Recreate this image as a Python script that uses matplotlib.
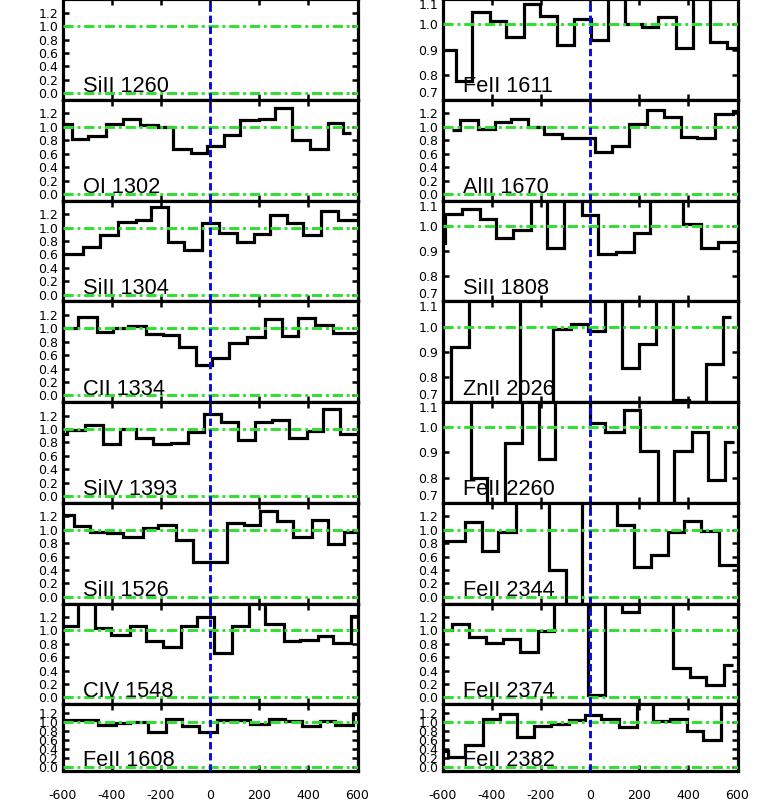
import numpy as np
import matplotlib.pyplot as plt
from matplotlib.ticker import FixedLocator, FormatStrFormatter

plt.rcParams['axes.unicode_minus'] = False

# ---- data: velocity bin edges (km/s) and normalised flux per transition ----
sii1260_edges = []
sii1260_flux = []

oi1302_edges = [-630, -562, -495, -424, -354, -286, -212, -152, -78, -11, 56, 124, 198, 265, 332, 406, 480, 541, 574]
oi1302_flux = [1.045, 0.82, 0.86, 1.045, 1.12, 1.03, 0.995, 0.67, 0.61, 0.72, 0.885, 1.095, 1.12, 1.28, 0.80, 0.67, 1.06, 0.905]

sii1304_edges = [-640, -515, -448, -374, -300, -239, -172, -105, -31, 36, 110, 178, 245, 312, 379, 453, 521, 610]
sii1304_flux = [0.61, 0.71, 0.895, 1.085, 1.11, 1.30, 0.79, 0.66, 1.07, 0.92, 0.78, 0.91, 1.18, 1.075, 0.885, 1.245, 1.11]

cii1334_edges = [-640, -535, -461, -394, -334, -260, -192, -125, -58, 9, 77, 151, 225, 292, 359, 426, 500, 610]
cii1334_flux = [1.01, 1.17, 0.94, 1.0, 1.035, 0.92, 0.895, 0.72, 0.45, 0.56, 0.78, 0.87, 1.135, 0.885, 1.16, 1.055, 0.93]

siiv1393_edges = [-650, -582, -508, -437, -367, -300, -233, -159, -91, -24, 43, 114, 182, 252, 323, 393, 460, 527, 610]
siiv1393_flux = [0.92, 0.99, 1.06, 0.78, 1.0, 0.87, 0.78, 0.79, 0.95, 1.23, 1.10, 0.83, 1.10, 1.13, 0.87, 0.965, 1.29, 0.93]

sii1526_edges = [-640, -555, -488, -421, -354, -273, -212, -139, -71, 0, 70, 137, 204, 272, 339, 413, 480, 547, 610]
sii1526_flux = [1.215, 1.05, 0.965, 0.95, 0.89, 1.025, 1.075, 0.84, 0.52, 0.52, 1.10, 1.065, 1.28, 1.125, 0.89, 1.14, 0.78, 0.96]

civ1548_edges = [-640, -535, -468, -401, -327, -260, -190, -118, -51, 16, 90, 157, 225, 299, 366, 440, 500, 574, 610]
civ1548_flux = [1.06, 1.6, 1.03, 0.935, 1.07, 0.84, 0.75, 1.07, 1.20, 0.67, 1.06, 1.6, 1.10, 0.84, 0.86, 0.91, 0.81, 1.21]

feii1608_edges = [-640, -529, -455, -381, -327, -253, -179, -112, -44, 30, 97, 164, 238, 305, 373, 447, 507, 581, 610]
feii1608_flux = [1.05, 1.04, 0.925, 0.98, 0.995, 0.77, 1.075, 0.92, 0.77, 1.05, 1.04, 0.955, 1.075, 1.015, 0.90, 1.015, 0.94, 1.17]

feii1611_edges = [-640, -545, -482, -408, -340, -270, -203, -135, -65, 3, 74, 144, 211, 278, 350, 417, 487, 558, 610]
feii1611_flux = [0.897, 0.777, 1.048, 1.013, 0.95, 1.08, 1.035, 0.917, 1.02, 0.937, 1.2, 1.0, 0.988, 1.028, 0.907, 1.2, 0.93, 0.907]

alii1670_edges = [-562, -529, -457, -387, -320, -253, -186, -114, -47, 20, 90, 160, 231, 299, 369, 437, 507, 581, 610]
alii1670_flux = [0.96, 1.095, 0.97, 1.07, 1.115, 1.0, 0.895, 0.83, 0.83, 0.62, 0.72, 1.045, 1.245, 1.145, 0.855, 0.835, 1.195, 1.24]

sii1808_edges = [-650, -589, -522, -448, -381, -313, -239, -175, -105, -34, 34, 106, 178, 245, 312, 379, 453, 521, 610]
sii1808_flux = [0.93, 1.048, 1.068, 1.028, 0.953, 0.984, 1.2, 0.913, 1.2, 1.044, 0.888, 0.897, 0.971, 1.2, 1.2, 1.008, 0.911, 0.937]

znii2026_edges = [-640, -566, -491, -421, -354, -286, -219, -149, -78, -7, 61, 130, 198, 269, 336, 403, 473, 541, 574]
znii2026_flux = [0.6, 0.92, 1.2, 1.2, 1.2, 0.6, 0.6, 0.99, 1.012, 0.983, 1.2, 0.836, 0.93, 1.2, 0.707, 0.702, 0.853, 1.04]

feii2260_edges = [-640, -553, -486, -418, -347, -276, -208, -141, -71, 0, 63, 137, 204, 276, 343, 413, 480, 551, 585]
feii2260_flux = [1.2, 1.2, 0.797, 0.6, 0.937, 1.2, 0.873, 1.2, 1.2, 1.017, 0.98, 1.067, 0.907, 0.6, 0.907, 0.983, 0.789, 0.943]

feii2344_edges = [-640, -508, -441, -374, -303, -233, -165, -98, -31, 40, 110, 178, 249, 316, 383, 453, 523, 610]
feii2344_flux = [0.827, 1.114, 0.688, 0.96, 1.6, 1.6, 0.406, -0.2, 1.6, 1.6, 1.064, 0.446, 0.629, 0.96, 1.134, 0.975, 0.47]

feii2374_edges = [-630, -562, -491, -424, -354, -286, -212, -145, -78, -7, 63, 130, 198, 269, 339, 406, 473, 547, 581]
feii2374_flux = [1.0, 1.10, 0.90, 0.815, 0.873, 0.675, 0.985, 1.6, 1.6, 0.04, 1.6, 1.28, 1.6, 1.6, 0.433, 0.305, 0.19, 0.478]

feii2382_edges = [-640, -578, -508, -434, -367, -297, -226, -159, -85, -20, 43, 117, 191, 258, 326, 393, 460, 534, 610]
feii2382_flux = [0.34, 0.21, 0.49, 1.075, 1.18, 0.655, 0.90, 0.955, 1.04, 1.165, 1.075, 0.887, 1.6, 1.015, 1.075, 0.79, 0.60, 1.6]

left_panels = [
    ("SiII 1260", sii1260_edges, sii1260_flux, "wide"),
    ("OI 1302", oi1302_edges, oi1302_flux, "wide"),
    ("SiII 1304", sii1304_edges, sii1304_flux, "wide"),
    ("CII 1334", cii1334_edges, cii1334_flux, "wide"),
    ("SiIV 1393", siiv1393_edges, siiv1393_flux, "wide"),
    ("SiII 1526", sii1526_edges, sii1526_flux, "wide"),
    ("CIV 1548", civ1548_edges, civ1548_flux, "wide"),
    ("FeII 1608", feii1608_edges, feii1608_flux, "wide"),
]
right_panels = [
    ("FeII 1611", feii1611_edges, feii1611_flux, "narrow"),
    ("AlII 1670", alii1670_edges, alii1670_flux, "wide"),
    ("SiII 1808", sii1808_edges, sii1808_flux, "narrow"),
    ("ZnII 2026", znii2026_edges, znii2026_flux, "narrow"),
    ("FeII 2260", feii2260_edges, feii2260_flux, "narrow"),
    ("FeII 2344", feii2344_edges, feii2344_flux, "wide"),
    ("FeII 2374", feii2374_edges, feii2374_flux, "wide"),
    ("FeII 2382", feii2382_edges, feii2382_flux, "wide"),
]

xticks = [-600, -400, -200, 0, 200, 400, 600]
wide_yticks = [0.0, 0.2, 0.4, 0.6, 0.8, 1.0, 1.2]
narrow_yticks = [0.7, 0.8, 0.9, 1.0, 1.1]

# ---- layout (pixels) ----
W, H = 761, 807
fig = plt.figure(figsize=(W / 100, H / 100), dpi=100)
col_x = [62.5, 442.5]
ax_w = 295.0
row_h = 100.7
tops = [-0.7 + row_h * i for i in range(8)]
heights = [row_h] * 7 + [771 - tops[7]]

green = "#2ee02e"
blue = "#0a0adc"
green_dash = [3.5, 1.3, 1.0, 1.3]

for c, panels in enumerate([left_panels, right_panels]):
    for r, (label, edges, flux, kind) in enumerate(panels):
        top = tops[r]
        h = heights[r]
        ax = fig.add_axes([col_x[c] / W, 1 - (top + h) / H, ax_w / W, h / H])
        ax.set_xlim(-600, 600)
        if kind == "wide":
            ax.set_ylim(-0.1, 1.4)
            ax.yaxis.set_major_locator(FixedLocator(wide_yticks))
        else:
            ax.set_ylim(0.7, 1.1)
            ax.yaxis.set_major_locator(FixedLocator(narrow_yticks))
        ax.yaxis.set_major_formatter(FormatStrFormatter("%.1f"))
        ax.xaxis.set_major_locator(FixedLocator([-400, -200, 0, 200, 400]))

        if len(flux) > 0:
            ax.stairs(flux, edges, baseline=None, color="black", lw=2.3, zorder=2)

        ax.axhline(1.0, color=green, lw=2.1, dashes=green_dash, zorder=3)
        if kind == "wide":
            ax.axhline(0.0, color=green, lw=2.1, dashes=green_dash, zorder=3)
        ax.axvline(0, color=blue, lw=2.1, dashes=[2.5, 1.3], zorder=4)

        ax.text(0.07, 0.075, label, transform=ax.transAxes, ha="left", va="baseline",
                fontsize=15.7, family="Liberation Sans", zorder=5)

        for s in ax.spines.values():
            s.set_linewidth(2.3)
        ax.tick_params(direction="in", top=True, right=True, length=4, width=1.8,
                       labelsize=9, pad=3)
        ax.tick_params(axis="x", pad=13)
        if r == 7:
            ax.xaxis.set_major_locator(FixedLocator(xticks))
        else:
            ax.tick_params(axis="x", labelbottom=False)

        # edge labels of the narrow panels sit just inside the frame
        if kind == "narrow":
            ylabels = ax.get_yticklabels()
            ylabels[0].set_va("bottom")
            ylabels[-1].set_va("top")

fig.savefig("out.png", dpi=100)
